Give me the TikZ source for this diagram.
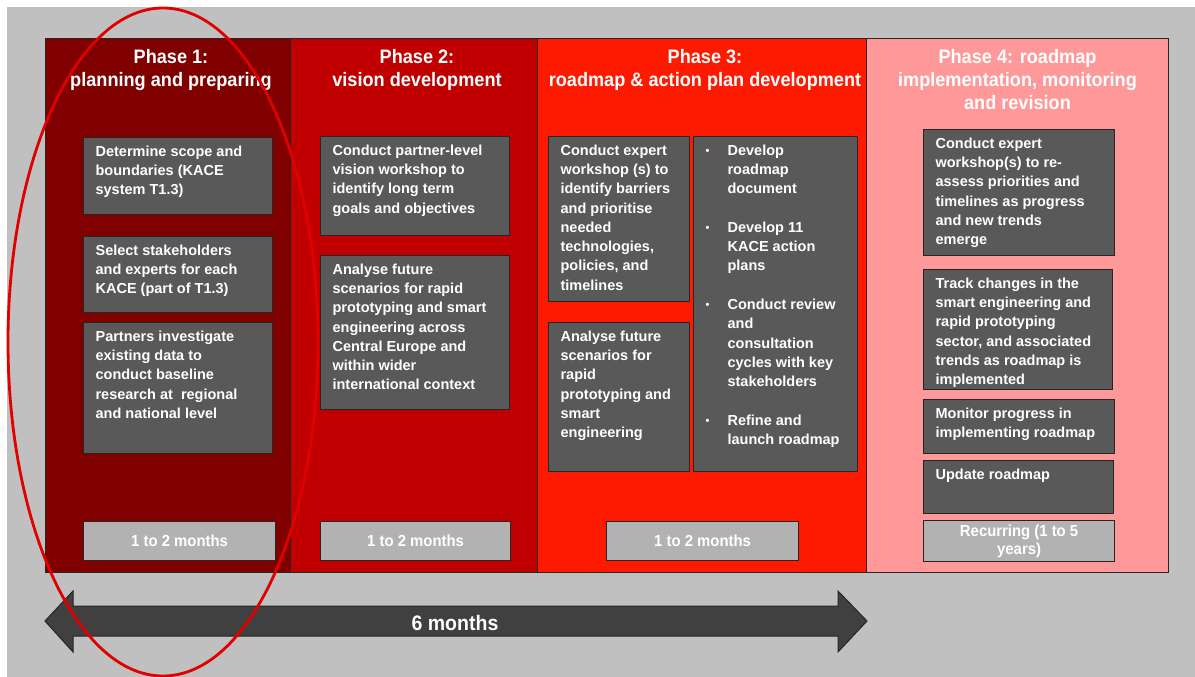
\documentclass[tikz,border=0pt]{standalone}
\usepackage{fontspec}
\setmainfont{Liberation Sans}
\newfontfamily\narrowfam[FakeStretch=0.93]{Liberation Sans}
\usetikzlibrary{positioning}

\definecolor{bggrey}{HTML}{C0C0C0}
\definecolor{edge}{HTML}{262626}
\definecolor{ph1}{HTML}{800000}
\definecolor{ph2}{HTML}{C00000}
\definecolor{ph3}{HTML}{FE1A00}
\definecolor{ph4}{HTML}{FF9999}
\definecolor{taskgrey}{HTML}{595959}
\definecolor{spangrey}{HTML}{B2B2B2}
\definecolor{arrowgrey}{HTML}{404040}
\definecolor{ringred}{HTML}{E00000}

\newcommand{\headfont}{\narrowfam\bfseries\fontsize{19.5}{23.3}\selectfont}
\newcommand{\spanfont}{\narrowfam\bfseries\fontsize{16}{18}\selectfont}
\newcommand{\taskfont}{\bfseries\fontsize{14.5}{19.3}\selectfont}
\newcommand{\tbox}[3]{\parbox[c][#2][t]{#1}{\raggedright #3}}
\newcommand{\bul}{\makebox[22pt][l]{\fontsize{11}{11}\selectfont\raisebox{1pt}{\textbullet}}}
\newcommand{\ind}{\hspace*{22pt}}

\tikzset{
  phase/.style={draw=edge, line width=1pt, anchor=north west, inner sep=0pt, minimum height=534pt},
  head/.style={text=white, font=\headfont, align=center, anchor=north, inner sep=0pt},
  task/.style={draw=edge, line width=1.2pt, fill=taskgrey, text=white, font=\taskfont, anchor=north west, inner xsep=12pt, inner ysep=8pt},
  span/.style={draw=edge, line width=1.2pt, fill=spangrey, text=white, font=\spanfont, anchor=north west, inner sep=0pt, align=center, minimum height=39pt}
}

\begin{document}
\begin{tikzpicture}[x=1pt,y=-1pt]
  \useasboundingbox[fill=white] (0,0) rectangle (1195,677);
  \fill[bggrey] (7,7) rectangle (1195,677);

  % phases
  \node[phase, fill=ph1, minimum width=245pt] (p1) at (45,38) {};
  \node[phase, fill=ph2, minimum width=247pt] (p2) at (290,38) {};
  \node[phase, fill=ph3, minimum width=329pt] (p3) at (537,38) {};
  \node[phase, fill=ph4, minimum width=302pt] (p4) at (866,38) {};

  \node[head] (h1) at ([xshift=3pt,yshift=-11pt]p1.north) {Phase 1:\\planning and preparing};
  \node[head] (h2) at ([xshift=3pt,yshift=-11pt]p2.north) {Phase 2:\\vision development};
  \node[head] (h3) at ([xshift=3pt,yshift=-11pt]p3.north) {Phase 3:\\roadmap \& action plan development};
  \node[head] (h4) at ([yshift=-11pt]p4.north) {Phase 4: roadmap\\implementation, monitoring\\and revision};

  % phase 1
  \node[task] (t1a) at (83,137) {\tbox{165pt}{61pt}{Determine scope and\\boundaries (KACE\\system T1.3)}};
  \node[task] (t1b) at (83,236) {\tbox{165pt}{60pt}{Select stakeholders\\and experts for each\\KACE (part of T1.3)}};
  \node[task] (t1c) at (83,322) {\tbox{165pt}{115pt}{Partners investigate\\existing data to\\conduct baseline\\research at ~regional\\and national level}};
  \node[span, minimum width=192pt] (d1) at (83,521) {1 to 2 months};

  % phase 2
  \node[task] (t2a) at (320,136) {\tbox{165pt}{83pt}{Conduct partner-level\\vision workshop to\\identify long term\\goals and objectives}};
  \node[task] (t2b) at (320,255) {\tbox{165pt}{138pt}{Analyse future\\scenarios for rapid\\prototyping and smart\\engineering across\\Central Europe and\\within wider\\international context}};
  \node[span, minimum width=190pt] (d2) at (320,521) {1 to 2 months};

  % phase 3
  \node[task] (t3a) at (548,136) {\tbox{117pt}{149pt}{Conduct expert\\workshop (s) to\\identify barriers\\and prioritise\\needed\\technologies,\\policies, and\\timelines}};
  \node[task] (t3c) at (548,322) {\tbox{117pt}{133pt}{Analyse future\\scenarios for\\rapid\\prototyping and\\smart\\engineering}};
  \node[task] (t3b) at (693,136) {\tbox{140pt}{319pt}{\bul Develop\\\ind roadmap\\\ind document\\[19.3pt]
    \bul Develop 11\\\ind KACE action\\\ind plans\\[19.3pt]
    \bul Conduct review\\\ind and\\\ind consultation\\\ind cycles with key\\\ind stakeholders\\[19.3pt]
    \bul Refine and\\\ind launch roadmap}};
  \node[span, minimum width=192pt] (d3) at (606,521) {1 to 2 months};

  % phase 4
  \node[task] (t4a) at (923,129) {\tbox{167pt}{110pt}{Conduct expert\\workshop(s) to re-\\assess priorities and\\timelines as progress\\and new trends\\emerge}};
  \node[task] (t4b) at (923,269) {\tbox{165pt}{104pt}{Track changes in the\\smart engineering and\\rapid prototyping\\sector, and associated\\trends as roadmap is\\implemented}};
  \node[task] (t4c) at (923,399) {\tbox{167pt}{38pt}{Monitor progress in\\implementing roadmap}};
  \node[task] (t4d) at (923,460) {\tbox{166pt}{37pt}{Update roadmap}};
  \node[span, minimum width=191pt, minimum height=41pt] (d4) at (923,520) {Recurring (1 to 5\\years)};

  % time span arrow
  \draw[edge, line width=1pt, fill=arrowgrey] (45,621) -- (73,591) -- (73,606) -- (838,606) -- (838,591)
    -- (867,621) -- (838,652) -- (838,636) -- (73,636) -- (73,652) -- cycle;
  \node[text=white, font=\narrowfam\bfseries\fontsize{21}{24}\selectfont] (six) at (455,623) {6 months};

  \draw[ringred, line width=2.8pt] (163,342) ellipse [x radius=155pt, y radius=334pt];
\end{tikzpicture}
\end{document}
